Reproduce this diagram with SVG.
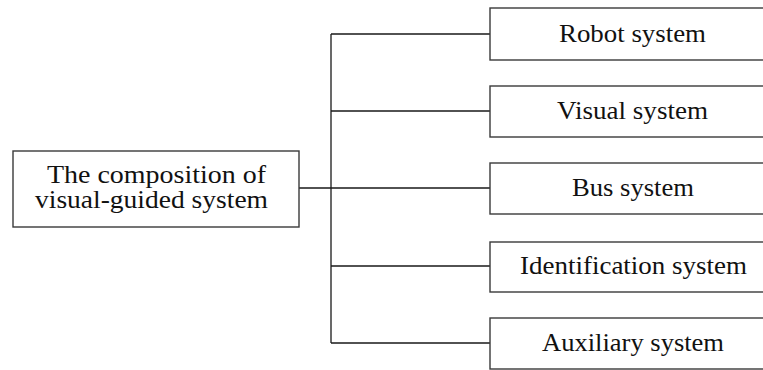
<svg xmlns="http://www.w3.org/2000/svg" width="763" height="370" viewBox="0 0 763 370">
<style>
.box{fill:#fff;stroke:#3a3a3a;stroke-width:1.4}
.ln{fill:none;stroke:#1a1a1a;stroke-width:1.3}
.t{font-family:'Liberation Serif','Times New Roman',Times,serif;font-size:26px;fill:#111;text-anchor:middle}
.s{font-size:24.5px}
</style>
<rect width="763" height="370" fill="#fff"/>
<g id="connectors">
<path class="ln" d="M299 188H331M331 34V343M331 34H490M331 111H490M331 188H490M331 266H490M331 343H490"/>
</g>
<g id="root">
<rect class="box" x="13" y="151" width="286" height="76"/>
<text class="t s" x="156.5" y="182.5" textLength="219" lengthAdjust="spacingAndGlyphs">The composition of</text>
<text class="t s" x="151.5" y="208" textLength="233" lengthAdjust="spacingAndGlyphs">visual-guided system</text>
</g>
<g id="robot">
<rect class="box" x="490" y="8" width="290" height="52"/>
<text class="t" x="632.5" y="42" textLength="147" lengthAdjust="spacingAndGlyphs">Robot system</text>
</g>
<g id="visual">
<rect class="box" x="490" y="86" width="290" height="51"/>
<text class="t" x="632.5" y="119" textLength="151" lengthAdjust="spacingAndGlyphs">Visual system</text>
</g>
<g id="bus">
<rect class="box" x="490" y="163" width="290" height="51"/>
<text class="t" x="633" y="196" textLength="122" lengthAdjust="spacingAndGlyphs">Bus system</text>
</g>
<g id="identification">
<rect class="box" x="490" y="242" width="290" height="50"/>
<text class="t" x="633.5" y="274" textLength="227" lengthAdjust="spacingAndGlyphs">Identification system</text>
</g>
<g id="auxiliary">
<rect class="box" x="490" y="318" width="290" height="51"/>
<text class="t" x="633" y="351" textLength="182" lengthAdjust="spacingAndGlyphs">Auxiliary system</text>
</g>
</svg>
